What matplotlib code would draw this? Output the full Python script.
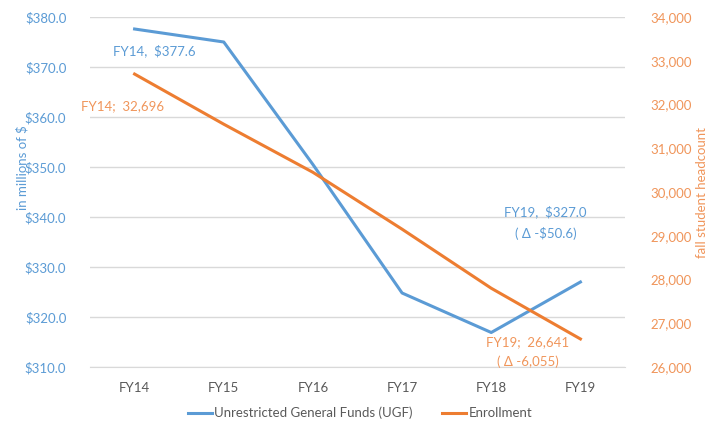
import matplotlib.pyplot as plt
from matplotlib.ticker import FuncFormatter

# Données
years = ["FY14", "FY15", "FY16", "FY17", "FY18", "FY19"]
ugf = [377.6, 375.0, 350.5, 324.8, 316.9, 327.0]
enrollment = [32696, 31550, 30450, 29150, 27800, 26641]

BLUE = "#5B9BD5"
ORANGE = "#ED7D31"
BLUE_TXT = "#5B9BD5"
ORANGE_TXT = "#F0955A"
GRAY = "#595959"

plt.rcParams["font.family"] = ["Lato", "DejaVu Sans"]

def main():
    fig = plt.figure(figsize=(7.19, 4.23), dpi=100)
    ax = fig.add_axes([90 / 719, 1 - 367 / 423, 535 / 719, 350 / 423])
    ax2 = ax.twinx()

    x = list(range(len(years)))
    ax.plot(x, ugf, color=BLUE, lw=2.2, label="Unrestricted General Funds (UGF)", zorder=3)
    ax2.plot(x, enrollment, color=ORANGE, lw=2.2, label="Enrollment", zorder=3)

    ax.set_xlim(-0.5, len(years) - 0.5)
    ax.set_ylim(310, 380)
    ax.set_yticks(range(310, 381, 10))
    ax.yaxis.set_major_formatter(FuncFormatter(lambda v, p: f"${v:.1f}"))
    ax2.set_ylim(26000, 34000)
    ax2.set_yticks(range(26000, 34001, 1000))
    ax2.yaxis.set_major_formatter(FuncFormatter(lambda v, p: f"{int(v):,}"))

    ax.set_xticks(x)
    ax.set_xticklabels(years)
    ax.grid(axis="y", color="#D9D9D9", lw=1)
    ax.set_axisbelow(True)
    for a in (ax, ax2):
        for s in ("top", "left", "right", "bottom"):
            a.spines[s].set_visible(False)
    ax.spines["bottom"].set_visible(True)
    ax.spines["bottom"].set_color("#D9D9D9")

    ax.tick_params(axis="y", length=0, pad=17, labelsize=9.5, labelcolor=BLUE_TXT)
    ax.tick_params(axis="x", length=0, pad=11, labelsize=9.5, labelcolor=GRAY)
    ax2.tick_params(axis="y", length=0, pad=18, labelsize=9.5, labelcolor=ORANGE_TXT)

    fig.text(22 / 719, 1 - 168 / 423, "in millions of $", rotation=90, color=BLUE_TXT,
             fontsize=9.5, ha="center", va="center")
    fig.text(702 / 719, 1 - 192 / 423, "fall student headcount", rotation=90, color=ORANGE_TXT,
             fontsize=9.5, ha="center", va="center")

    # Étiquettes de données
    def lab(px, py, s, c):
        fig.text(px / 719, 1 - py / 423, s, color=c, fontsize=9.5, ha="center", va="center")

    lab(154, 51, "FY14,  $377.6", BLUE_TXT)
    lab(123, 106, "FY14;  32,696", ORANGE_TXT)
    lab(545, 212, "FY19,  $327.0", BLUE_TXT)
    lab(546, 233, "( Δ -$50.6)", BLUE_TXT)
    lab(528, 342, "FY19;  26,641", ORANGE_TXT)
    lab(528, 362, "( Δ -6,055)", ORANGE_TXT)

    h1, l1 = ax.get_legend_handles_labels()
    h2, l2 = ax2.get_legend_handles_labels()
    fig.legend(h1 + h2, l1 + l2, loc="center", bbox_to_anchor=(360 / 719, 1 - 413 / 423),
               ncol=2, frameon=False, fontsize=9.5, labelcolor=GRAY, handlelength=1.8,
               handletextpad=0.2, columnspacing=2.2)

    fig.savefig("out.png", dpi=100)

if __name__ == "__main__":
    main()
